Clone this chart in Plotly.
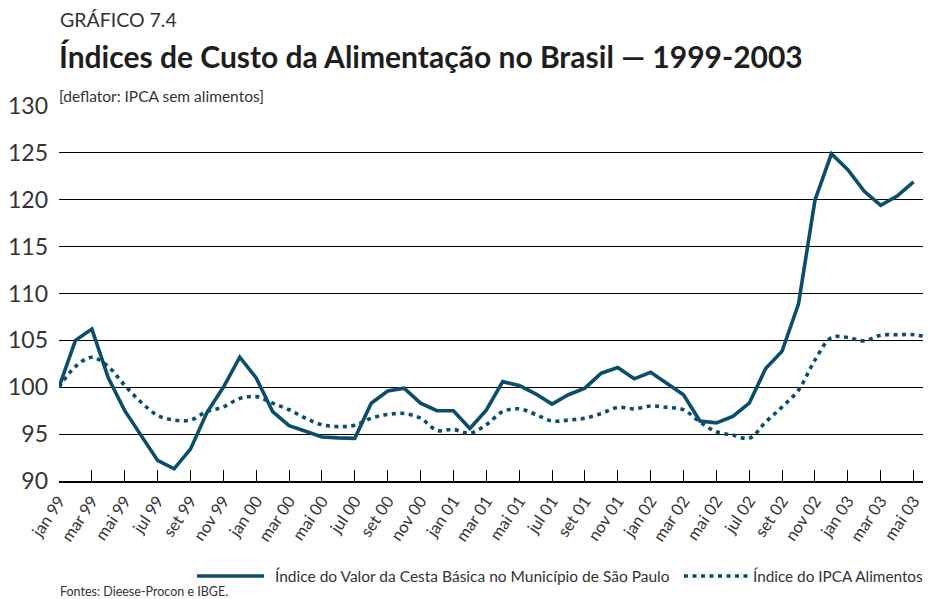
import plotly.graph_objects as go

months = ["jan", "fev", "mar", "abr", "mai", "jun", "jul", "ago", "set", "out", "nov", "dez"]
years = ["99", "00", "01", "02", "03"]
month_labels = [f"{m} {y}" for y in years for m in months][:54]  # jan 99 .. jun 03

cesta_basica = [
    100.0, 105.0, 106.2, 101.0, 97.5, 94.9, 92.2, 91.3, 93.4, 97.3, 100.0, 103.2,
    101.0, 97.4, 95.9, 95.3, 94.7, 94.6, 94.55, 98.3, 99.6, 99.9, 98.3, 97.5,
    97.5, 95.6, 97.55, 100.6, 100.2, 99.3, 98.2, 99.2, 99.9, 101.5, 102.1, 100.9,
    101.6, 100.4, 99.2, 96.4, 96.2, 96.9, 98.3, 102.0, 103.85, 108.9, 119.95, 124.9,
    123.2, 120.9, 119.4, 120.4, 121.9,
]
ipca_alimentos = [
    100.0, 102.2, 103.2, 102.2, 100.2, 98.4, 97.0, 96.5, 96.5, 97.4, 97.9, 98.8,
    99.0, 98.3, 97.6, 96.7, 96.0, 95.8, 95.95, 96.7, 97.1, 97.2, 96.7, 95.4,
    95.5, 95.1, 96.0, 97.4, 97.7, 97.1, 96.4, 96.5, 96.7, 97.2, 97.85, 97.7,
    98.0, 97.85, 97.6, 96.3, 95.25, 94.9, 94.55, 96.3, 97.9, 99.7, 102.9, 105.3,
    105.3, 104.95, 105.55, 105.6, 105.6, 105.3,
]
y_ticks = [90, 95, 100, 105, 110, 115, 120, 125, 130]

series_names = ["Índice do Valor da Cesta Básica no Município de São Paulo",
                "Índice do IPCA Alimentos"]
title = "Índices de Custo da Alimentação no Brasil — 1999-2003"
kicker = "GRÁFICO 7.4"
subtitle = "[deflator: IPCA sem alimentos]"
source = "Fontes: Dieese-Procon e IBGE."

OFF = 8  # page body margin
W, H = 931 - OFF, 599 - OFF
PLOT_L, PLOT_R, PLOT_T, PLOT_B = 59, 930, 106, 481  # screen px
L = PLOT_L - OFF
T = PLOT_T - OFF
R = W - (PLOT_R - OFF)
B = H - (PLOT_B - OFF)
PW, PH = W - L - R, H - T - B
COLOR = "#0b4d6c"
FONT = "Lato"
TXT = "#333333"


def px(x):
    return (x - OFF - L) / PW


def py(y):
    return (H - B - (y - OFF)) / PH


xs_c = list(range(len(cesta_basica)))
xs_i = list(range(len(ipca_alimentos)))

fig = go.Figure()
fig.add_trace(go.Scatter(x=xs_i, y=ipca_alimentos, mode="lines", name=series_names[1],
                         line=dict(color=COLOR, width=3.6, dash="4px,4.5px", shape="spline", smoothing=1.0),
                         showlegend=False))
fig.add_trace(go.Scatter(x=xs_c, y=cesta_basica, mode="lines", name=series_names[0],
                         line=dict(color=COLOR, width=3.6), showlegend=False))

tickvals = list(range(0, len(month_labels), 2))
ticktext = [month_labels[i] for i in tickvals]

fig.update_xaxes(range=[0, 53], tickvals=tickvals, ticktext=ticktext, tickangle=-56,
                 ticks="inside", ticklen=11, tickwidth=1.2, tickcolor="#000",
                 showline=True, linecolor="#000", linewidth=1.6, showgrid=False, zeroline=False,
                 ticklabelstandoff=2, automargin=False,
                 tickfont=dict(family=FONT, size=16.5, color=TXT))
fig.update_yaxes(range=[90, 130], tickvals=y_ticks, showgrid=True, gridcolor="#000", gridwidth=1.4,
                 zeroline=False, showline=False, ticks="", ticklabelstandoff=10, automargin=False,
                 tickfont=dict(family=FONT, size=23, color=TXT))

annotations = [
    dict(text=kicker, x=px(58), y=py(19), xanchor="left", yanchor="middle",
         font=dict(family=FONT, size=19.5, color=TXT)),
    dict(text=f"<b>{title}</b>", x=px(57), y=py(56), xanchor="left", yanchor="middle",
         font=dict(family=FONT, size=30, color="#1e1e1e")),
    dict(text=subtitle, x=px(57), y=py(96), xanchor="left", yanchor="middle",
         font=dict(family=FONT, size=15.5, color=TXT)),
    dict(text=source, x=px(58), y=py(591), xanchor="left", yanchor="middle",
         font=dict(family=FONT, size=12.5, color=TXT)),
    dict(text=series_names[0], x=px(273), y=py(576), xanchor="left", yanchor="middle",
         font=dict(family=FONT, size=15.5, color=TXT)),
    dict(text=series_names[1], x=px(751), y=py(576), xanchor="left", yanchor="middle",
         font=dict(family=FONT, size=15.3, color=TXT)),
]
for a in annotations:
    a.update(xref="paper", yref="paper", showarrow=False)

shapes = [
    dict(type="line", xref="paper", yref="paper", x0=px(197), x1=px(264), y0=py(576), y1=py(576),
         line=dict(color=COLOR, width=3.6)),
    dict(type="line", xref="paper", yref="paper", x0=px(684), x1=px(748), y0=py(576), y1=py(576),
         line=dict(color=COLOR, width=3.6, dash="4px,4.5px")),
]

fig.update_layout(width=W, height=H, margin=dict(l=L, r=R, t=T, b=B, autoexpand=False),
                  plot_bgcolor="white", paper_bgcolor="white",
                  annotations=annotations, shapes=shapes, showlegend=False)

fig.write_html("out.html")
